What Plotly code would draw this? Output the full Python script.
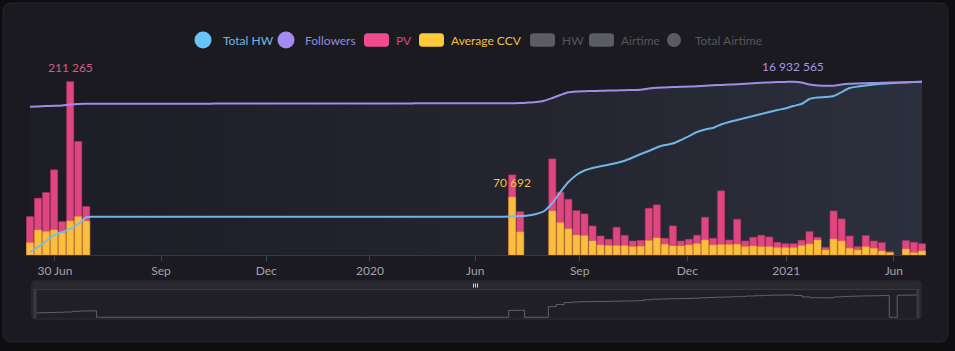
import plotly.graph_objects as go

# ---------------- DATA ----------------
# weekly index 0..111 (x categories)
weeks = list(range(112))

# x-axis tick labels (week index where the label sits)
tick_pos = [3.1, 16.3, 29.4, 42.3, 55.4, 68.4, 81.8, 94.1, 107.5]
tick_text = ["30 Jun", "Sep", "Dec", "2020", "Jun", "Sep", "Dec", "2021", "Jun"]

# weeks that have bar data
bar_week = [0, 1, 2, 3, 4, 5, 6, 7,
            60, 61,
            65, 66, 67, 68, 69, 70, 71, 72, 73, 74, 75, 76, 77, 78, 79, 80,
            81, 82, 83, 84, 85, 86, 87, 88, 89, 90, 91, 92, 93, 94, 95, 96,
            97, 98, 99, 100, 101, 102, 103, 104, 105, 106, 107,
            109, 110, 111]

pv = [46800, 69200, 76100, 103800, 40700, 211265, 138400, 59000,
      97700, 52900,
      117200, 76500, 68000, 54100, 50100, 35400, 23200, 19200, 33800, 24000,
      17100, 17900, 57000, 61100, 20400, 35400,
      17100, 19200, 24000, 46000, 20400, 78200, 18300, 43600, 17100, 21600,
      24000, 22000, 15500, 13800, 13800, 17900,
      28500, 21600, 9400, 53700, 44000, 23200, 10100, 23600, 17100, 15000, 4000,
      17500, 15500, 13800]

avg_ccv = [15000, 30500, 28500, 30500, 27700, 41500, 46800, 41500,
           70692, 28100,
           53700, 39400, 31800, 24400, 23600, 17100, 12200, 11400, 11400, 11400,
           10100, 10600, 17500, 20800, 13100, 11000,
           11000, 12200, 13800, 18300, 12200, 12600, 12600, 13100, 10100, 11000,
           10100, 10100, 8900, 8900, 8900, 11400,
           13400, 18300, 6100, 19500, 17100, 8200, 6100, 10100, 8200, 4900, 2800,
           7300, 2800, 4900]

# cumulative hours watched (thousands), one per week
total_hw = [42, 112, 196, 280, 322, 365, 435, 530,
            536, 536, 536, 536, 536, 536, 536, 536, 536, 536, 536, 536, 536,
            536, 536, 536, 536, 536, 536, 536, 536, 536, 536, 536, 536, 536,
            536, 536, 536, 536, 536, 536, 536, 536, 536, 536, 536, 536, 536,
            536, 536, 536, 536, 536, 536, 536, 536, 536, 536, 536, 536, 536,
            540, 547, 554, 575, 617, 729, 883, 1023, 1122, 1185, 1220, 1244,
            1266, 1290, 1322, 1367, 1416, 1458, 1507, 1542, 1563, 1612, 1668,
            1724, 1760, 1781, 1830, 1865, 1893, 1921, 1949, 1977, 2005, 2033,
            2054, 2089, 2117, 2187, 2208, 2215, 2229, 2285, 2341, 2362, 2376,
            2390, 2402, 2409, 2414, 2420, 2425, 2430]

# followers (thousands, peak exact)
followers = [14490, 14519, 14549, 14578, 14617, 14705, 14754, 14773,
             14776, 14777, 14778, 14779, 14780, 14781, 14782, 14783, 14784,
             14785, 14786, 14787, 14788, 14789, 14790, 14791, 14792, 14793,
             14794, 14795, 14796, 14797, 14798, 14799, 14800, 14801, 14802,
             14803, 14804, 14805, 14806, 14807, 14808, 14809, 14810, 14811,
             14812, 14813, 14813, 14814, 14815, 14816, 14817, 14817, 14818,
             14819, 14819, 14820, 14820, 14821, 14821, 14822,
             14832, 14851, 14900, 14949, 15076, 15340, 15633, 15897, 15975,
             16004, 16024, 16043, 16063, 16083, 16102, 16122, 16151, 16268,
             16346, 16376, 16415, 16434, 16454, 16483, 16532, 16581, 16620,
             16649, 16688, 16737, 16786, 16825, 16864, 16894, 16913,
             16932.565,
             16854, 16659, 16561, 16542, 16542, 16659, 16727, 16757, 16786,
             16806, 16825, 16845, 16864, 16884, 16903, 16923]
followers = [v * 1000 for v in followers]

legend_names = ["Total HW", "Followers", "PV", "Average CCV", "HW", "Airtime", "Total Airtime"]

# ---------------- STYLE / LAYOUT ----------------
W, H = 955, 351
def PX(x): return x / W
def PY(y): return 1 - y / H

HEAD = 195 / 173.3
C_PV = "#e0467f"
C_CCV = "#f8c03c"
C_THW = "#74bdf0"
C_FOL = "#9e8ee6"
FONT = "Lato, 'Open Sans', sans-serif"

def fmt(v):
    return f"{int(round(v)):,}".replace(",", " ")

fig = go.Figure()

# followers area (background gradient)
fig.add_trace(go.Scatter(
    x=weeks, y=followers, xaxis="x", yaxis="y", mode="lines",
    line=dict(width=0, shape="spline", smoothing=0.6),
    fill="tozeroy",
    fillgradient=dict(type="horizontal",
                      colorscale=[[0, "#1d1d26"], [0.6, "#24252f"], [1, "#2c303e"]]),
    hoverinfo="skip"))

# bars
fig.add_trace(go.Bar(x=bar_week, y=pv, xaxis="x", yaxis="y2", name="PV",
                     marker=dict(color=C_PV, line=dict(color="#b83468", width=0.6))))
fig.add_trace(go.Bar(x=bar_week, y=avg_ccv, xaxis="x", yaxis="y2", name="Average CCV",
                     marker=dict(color=C_CCV, line=dict(color="#e0962e", width=0.6))))

# lines
fig.add_trace(go.Scatter(x=weeks, y=total_hw, xaxis="x", yaxis="y3", mode="lines",
                         name="Total HW",
                         line=dict(color=C_THW, width=2, shape="spline", smoothing=0.6),
                         opacity=0.95))
fig.add_trace(go.Scatter(x=weeks, y=followers, xaxis="x", yaxis="y4", mode="lines",
                         name="Followers",
                         line=dict(color=C_FOL, width=2, shape="spline", smoothing=0.6)))

# range-slider preview series
present = set(bar_week)
SLIDER_FLOOR = 13_900_000
slider_vals = [followers[i] if i in present else SLIDER_FLOOR for i in weeks]
fig.add_trace(go.Scatter(x=weeks, y=slider_vals, xaxis="x2", yaxis="y5", mode="lines",
                         line=dict(color="#616169", width=1, shape="hvh"),
                         hoverinfo="skip"))

# ---------------- shapes ----------------
def rrect(x0, y0, x1, y1, r):
    pts = (f"M {PX(x0+r)},{PY(y0)} L {PX(x1-r)},{PY(y0)} "
           f"Q {PX(x1)},{PY(y0)} {PX(x1)},{PY(y0+r)} "
           f"L {PX(x1)},{PY(y1-r)} Q {PX(x1)},{PY(y1)} {PX(x1-r)},{PY(y1)} "
           f"L {PX(x0+r)},{PY(y1)} Q {PX(x0)},{PY(y1)} {PX(x0)},{PY(y1-r)} "
           f"L {PX(x0)},{PY(y0+r)} Q {PX(x0)},{PY(y0)} {PX(x0+r)},{PY(y0)} Z")
    return pts

shapes = []
# card
shapes.append(dict(type="path", path=rrect(3, 3, 948, 342, 9), xref="paper", yref="paper",
                   fillcolor="#1b1a20", line=dict(color="#26252c", width=1), layer="below"))
# slider panel
shapes.append(dict(type="path", path=rrect(32, 281, 921, 319, 3), xref="paper", yref="paper",
                   fillcolor="#201f25", line=dict(color="#2f2e35", width=1), layer="below"))
shapes.append(dict(type="rect", x0=PX(33), x1=PX(920), y0=PY(289), y1=PY(282),
                   xref="paper", yref="paper", fillcolor="#2a2930", line=dict(width=0),
                   layer="below"))
shapes.append(dict(type="line", x0=PX(33), x1=PX(920), y0=PY(289.5), y1=PY(289.5),
                   xref="paper", yref="paper", line=dict(color="#3a3940", width=1),
                   layer="below"))
# slider handles
for hx in (35, 918):
    shapes.append(dict(type="line", x0=PX(hx), x1=PX(hx), y0=PY(290), y1=PY(318),
                       xref="paper", yref="paper", line=dict(color="#3b3a42", width=3),
                       layer="below"))
# grip
for gx in (473.5, 475.5, 477.5):
    shapes.append(dict(type="line", x0=PX(gx), x1=PX(gx), y0=PY(283.5), y1=PY(287.5),
                       xref="paper", yref="paper", line=dict(color="#d8d8dc", width=1)))

# legend (custom)
legend_colors = ["#68c3f8", "#a28cf3", "#ee4c8c", "#fcc93b", "#5c5c64", "#5c5c64", "#5a5a60"]
legend_text_colors = ["#72b6e8", "#948ade", "#d9467f", "#efc04a", "#56565d", "#56565d", "#56565d"]
legend_kind = ["circle", "circle", "rect", "rect", "rect", "rect", "circle"]
legend_icon_x = [(194.5, 211.5), (277.5, 294.5), (364, 389), (419, 444), (530, 555),
                 (589, 614), (667, 681)]
legend_text_x = [220.6, 303.4, 393.7, 448.6, 560, 619.4, 692.5]
LY = 40
annotations = []
for name, col, tcol, kind, (ix0, ix1), tx in zip(legend_names, legend_colors, legend_text_colors,
                                                legend_kind, legend_icon_x, legend_text_x):
    if kind == "circle":
        d = ix1 - ix0
        shapes.append(dict(type="circle", xref="paper", yref="paper",
                           x0=PX(ix0), x1=PX(ix1), y0=PY(LY + d / 2), y1=PY(LY - d / 2),
                           fillcolor=col, line=dict(width=0)))
    else:
        shapes.append(dict(type="path", xref="paper", yref="paper",
                           path=rrect(ix0, LY - 6.8, ix1, LY + 6.8, 3.5),
                           fillcolor=col, line=dict(width=0)))
    annotations.append(dict(x=PX(tx), y=PY(LY), xref="paper", yref="paper", text=name,
                            showarrow=False, xanchor="left", yanchor="middle",
                            font=dict(color=tcol, size=12, family=FONT)))

# max-value labels
i_pv = max(range(len(pv)), key=lambda k: pv[k])
annotations.append(dict(x=bar_week[i_pv], y=pv[i_pv], xref="x", yref="y2", text=fmt(pv[i_pv]),
                        showarrow=False, yanchor="bottom", yshift=5,
                        font=dict(color="#dc5a8c", size=12, family=FONT)))
i_cc = max(range(len(avg_ccv)), key=lambda k: avg_ccv[k])
annotations.append(dict(x=bar_week[i_cc], y=avg_ccv[i_cc], xref="x", yref="y2",
                        text=fmt(avg_ccv[i_cc]), showarrow=False, yanchor="bottom", yshift=5,
                        font=dict(color="#f0c24a", size=12, family=FONT)))
i_fo = max(weeks, key=lambda k: followers[k])
annotations.append(dict(x=i_fo, y=followers[i_fo], xref="x", yref="y4",
                        text=fmt(followers[i_fo]), showarrow=False, yanchor="bottom", yshift=6,
                        font=dict(color="#a596e8", size=12, family=FONT)))

fol_range = [0, max(followers) * HEAD]
fig.update_layout(
    width=W, height=H, margin=dict(l=0, r=0, t=0, b=0),
    paper_bgcolor="#0e0e11", plot_bgcolor="rgba(0,0,0,0)",
    showlegend=False, barmode="overlay", bargap=0.12,
    font=dict(family=FONT, size=12, color="#a0a0a8"),
    xaxis=dict(domain=[PX(26), PX(926)], range=[-0.5, 111.5], anchor="y",
               tickmode="array", tickvals=tick_pos, ticktext=tick_text,
               ticks="outside", ticklen=5, tickcolor="#44444c", tickwidth=1,
               showline=True, linecolor="#38383f", linewidth=1,
               showgrid=False, zeroline=False,
               tickfont=dict(size=12, color="#a3a3aa", family=FONT)),
    yaxis=dict(domain=[PY(255), PY(60)], range=fol_range, visible=False),
    yaxis2=dict(overlaying="y", range=[0, max(pv) * HEAD], visible=False),
    yaxis3=dict(overlaying="y", range=[0, max(total_hw) * HEAD], visible=False),
    yaxis4=dict(overlaying="y", range=fol_range, visible=False),
    xaxis2=dict(domain=[PX(33), PX(921)], range=[-0.5, 111.5], anchor="y5", visible=False),
    yaxis5=dict(domain=[PY(318), PY(290)], range=[13_800_000, 17_600_000], anchor="x2",
                visible=False),
    shapes=shapes, annotations=annotations,
)

fig.write_html("out.html")
